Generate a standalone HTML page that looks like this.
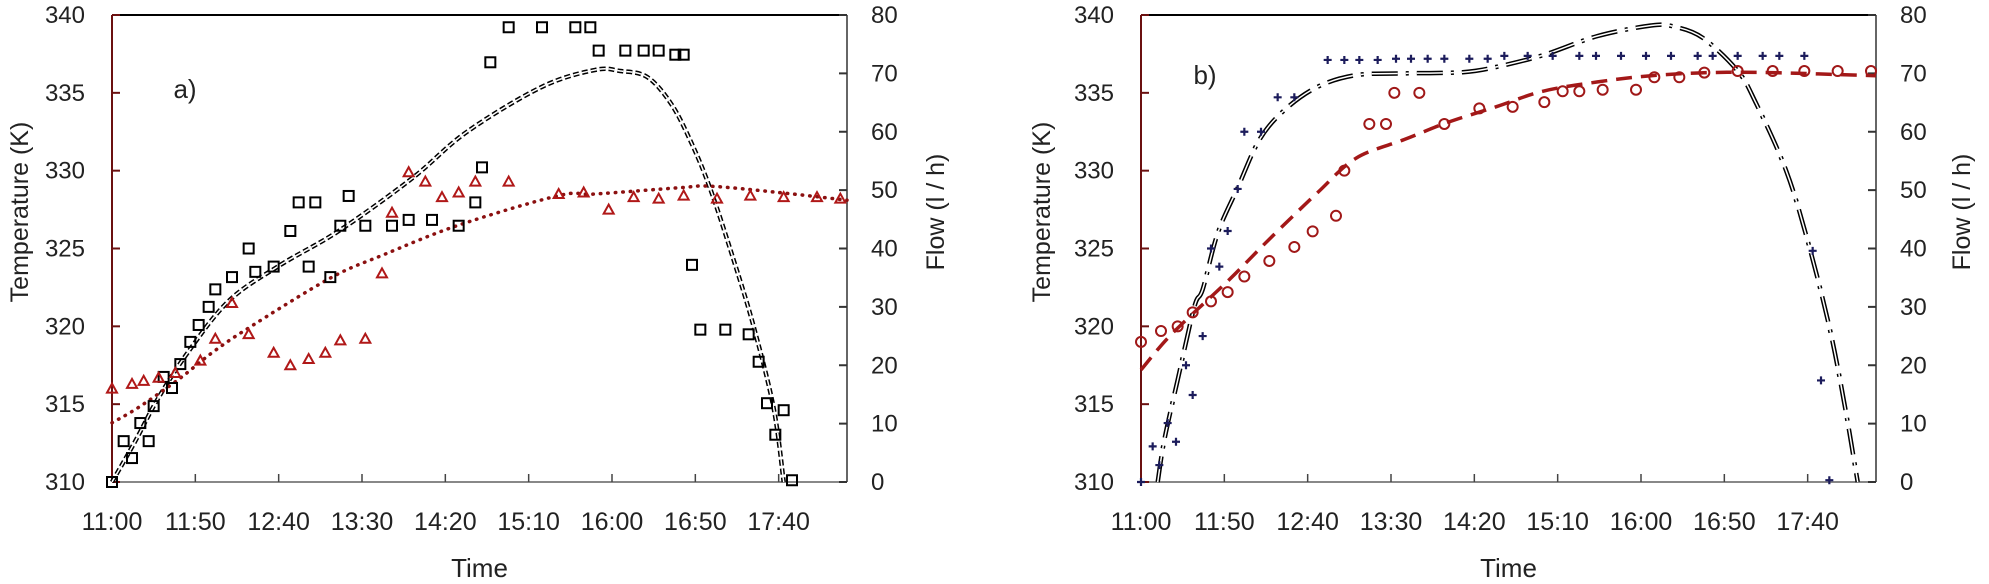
<!DOCTYPE html>
<html><head><meta charset="utf-8"><style>
html,body{margin:0;padding:0;background:#fff}
svg{display:block;font-family:"Liberation Sans",sans-serif}
</style></head><body>
<svg id="chart" width="1989" height="584" viewBox="0 0 1989 584" xmlns="http://www.w3.org/2000/svg"></svg>
<script>
// ---- data (minutes after 11:00) ----
const tickLabels = ["11:00","11:50","12:40","13:30","14:20","15:10","16:00","16:50","17:40"];
const tempTicks = [310,315,320,325,330,335,340];
const flowTicks = [0,10,20,30,40,50,60,70,80];
// panel a: squares = flow
const aSqT = [0,12,7,22,17,25,36,31,41,47,52,58,62,72,82,86,97,107,112,122,118,131,137,142,152,168,178,192,208,218,222,227,238,258,278,287,292,308,319,328,338,343,348,353,368,382,388,393,398,403,408];
const aSqF = [0,4.1,7,7,10.1,13,16.1,18,20.2,24,26.9,30,33,35.1,40,36,36.9,43,47.9,47.9,36.9,35.1,43.9,49,43.9,43.9,44.9,44.9,43.9,47.9,53.9,71.9,77.9,77.9,77.9,77.9,73.9,73.9,73.9,73.9,73.2,73.2,37.2,26.1,26.1,25.3,20.6,13.5,8.1,12.3,0.3];
// panel a: triangles = temperature
const aTrT = [0,12,19,28,38,53,62,72,82,97,107,118,128,137,152,162,168,178,188,198,208,218,238,268,283,298,313,328,343,363,383,403,423,437];
const aTrV = [316.0,316.3,316.5,316.7,317.0,317.8,319.2,321.5,319.5,318.3,317.5,317.9,318.3,319.1,319.2,323.4,327.3,329.9,329.3,328.3,328.6,329.3,329.3,328.5,328.6,327.5,328.3,328.2,328.4,328.2,328.4,328.3,328.3,328.2];
// panel a fits
const aFlowFitT = [0,14,27,45,70,100,136,180,213,258,290,305,321,335,347,359,373,385,397,403];
const aFlowFitV = [0,7,14,22,31,37,43,52,60,67.7,70.6,70.4,69.4,65,58.5,50.2,38,26.6,12.6,0];
const aTempFitT = [0,16,40,60,82,131,163,208,268,290,340,359,400,441];
const aTempFitV = [313.8,314.8,316.6,318.3,319.9,323.1,324.6,326.5,328.4,328.5,328.9,329.0,328.6,328.1];
// panel b: crosses = flow
const bCrT = [0,7,11,16,21,27,31,37,42,47,52,58,62,72,82,92,112,122,131,142,153,162,172,182,197,208,218,232,247,263,273,288,303,318,334,343,358,373,383,398,403,408,413];
const bCrF = [0,6.1,2.9,10.1,6.9,20,14.9,25,40,36.9,43,50.2,60,60,65.9,65.9,72.3,72.3,72.3,72.3,72.5,72.5,72.5,72.5,72.5,72.5,73,73,73,73,73,73,73,73,73,73,73,73,73,73,39.6,17.4,0.3];
// panel b: circles = temperature
const bCiT = [0,12,22,31,42,52,62,77,92,103,117,122,137,147,152,167,182,203,223,242,253,263,277,297,308,323,338,358,379,398,418,438];
const bCiV = [319.0,319.7,320.0,320.9,321.6,322.2,323.2,324.2,325.1,326.1,327.1,330.0,333.0,333.0,335.0,335.0,333.0,334.0,334.1,334.4,335.1,335.1,335.2,335.2,336.0,336.0,336.3,336.4,336.4,336.4,336.4,336.4];
// panel b fits
const bFlowFitT = [10,14,22,32,37,46,58,71,86,106,129,158,193,213,241,274,306,320,337,358,369,387,400,413,422,430];
const bFlowFitV = [0,7.2,17.5,30,33,42.6,50.4,58.6,63.7,67.7,69.7,70,70.2,71.1,73.1,76.4,78.2,78,76.1,70.4,64.9,53.4,41.3,26.6,13.5,0];
const bTempFitT = [0,14,27,53,77,106,129,158,184,213,241,274,306,341,377,441];
const bTempFitV = [317.2,319.0,320.4,323.0,325.6,328.6,330.8,332.0,333.1,334.1,335.1,335.7,336.1,336.3,336.3,336.1];

const NS="http://www.w3.org/2000/svg";
const svg=document.getElementById('chart');
function mk(tag,attrs,parent){const e=document.createElementNS(NS,tag);for(const k in attrs)e.setAttribute(k,attrs[k]);(parent||svg).appendChild(e);return e;}
const TOP=15,BOT=482,TMAX=441;
function smoothPath(pts){
  let d="M"+pts[0][0].toFixed(1)+","+pts[0][1].toFixed(1);
  for(let i=0;i<pts.length-1;i++){
    const p0=pts[Math.max(0,i-1)],p1=pts[i],p2=pts[i+1],p3=pts[Math.min(pts.length-1,i+2)];
    const c1x=p1[0]+(p2[0]-p0[0])/6,c1y=p1[1]+(p2[1]-p0[1])/6;
    const c2x=p2[0]-(p3[0]-p1[0])/6,c2y=p2[1]-(p3[1]-p1[1])/6;
    d+=" C"+c1x.toFixed(1)+","+c1y.toFixed(1)+" "+c2x.toFixed(1)+","+c2y.toFixed(1)+" "+p2[0].toFixed(1)+","+p2[1].toFixed(1);
  }
  return d;
}
function panel(L,R,id){
  const g=mk('g',{});
  
  
  const x=t=>L+(t/TMAX)*(R-L);
  const yT=v=>BOT-(v-310)/30*(BOT-TOP);
  const yF=v=>BOT-v/80*(BOT-TOP);
  const top=mk('line',{x1:L,y1:TOP,x2:R,y2:TOP,stroke:'#000','stroke-width':2},g);
  
  const bot=mk('line',{x1:L,y1:BOT,x2:R,y2:BOT,stroke:'#888','stroke-width':2},g);
  
  const la=mk('line',{x1:L,y1:TOP,x2:L,y2:BOT,stroke:'#6b1010','stroke-width':2},g);
  
  const ra=mk('line',{x1:R,y1:TOP,x2:R,y2:BOT,stroke:'#666','stroke-width':2},g);
  
  tempTicks.forEach(v=>{
    mk('line',{x1:L,y1:yT(v),x2:L+8,y2:yT(v),stroke:'#6b1010','stroke-width':2},g);
    const t=mk('text',{x:L-27,y:yT(v)+8,'text-anchor':'end','font-size':24,fill:'#222'},g);
    t.textContent=v;
  });
  flowTicks.forEach(v=>{
    mk('line',{x1:R-8,y1:yF(v),x2:R,y2:yF(v),stroke:'#333','stroke-width':2},g);
    const t=mk('text',{x:R+24,y:yF(v)+8,'text-anchor':'start','font-size':24,fill:'#222'},g);
    t.textContent=v;
  });
  tickLabels.forEach((s,i)=>{
    const xx=x(i*50);
    if(i>0) mk('line',{x1:xx,y1:BOT-8,x2:xx,y2:BOT,stroke:'#444','stroke-width':1.5},g);
    const t=mk('text',{x:xx,y:530,'text-anchor':'middle','font-size':25,fill:'#222'},g);
    t.textContent=s;
  });
  const xt=mk('text',{x:(L+R)/2,y:577,'text-anchor':'middle','font-size':26,fill:'#222'},g);
  xt.textContent='Time';
  return {g,x,yT,yF};
}
function titles(xl,xr,lab,lx,ly){
  const t1=mk('text',{x:0,y:0,'text-anchor':'middle','font-size':25,fill:'#222',transform:`translate(${xl},212) rotate(-90)`,'xml:space':'preserve'});
  t1.textContent='Temperature  (K)';
  const t2=mk('text',{x:0,y:0,'text-anchor':'middle','font-size':25,fill:'#222',transform:`translate(${xr},212) rotate(-90)`,'xml:space':'preserve'});
  t2.textContent='Flow   (l / h)';
  const t3=mk('text',{x:lx,y:ly,'text-anchor':'middle','font-size':26,fill:'#222'});
  t3.textContent=lab;
}
function doubleLine(g,d,dash,name){
  const a=mk('path',{d,fill:'none',stroke:'#000','stroke-width':4.5,'stroke-dasharray':dash},g);
  
  mk('path',{d,fill:'none',stroke:'#fff','stroke-width':1.5,'stroke-dasharray':dash},g);
}
// ---- Panel A ----
const A=panel(112,847,'a');
titles(28,944,'a)',185,98);
doubleLine(A.g,smoothPath(aFlowFitT.map((t,i)=>[A.x(t),A.yF(aFlowFitV[i])])),'6 3','flow-fit-line-a');
const ta=mk('path',{d:smoothPath(aTempFitT.map((t,i)=>[A.x(t),A.yT(aTempFitV[i])])),fill:'none',stroke:'#8b1010','stroke-width':3.5,'stroke-dasharray':'0.5 7','stroke-linecap':'round'},A.g);

aSqT.forEach((t,i)=>{
  const cx=A.x(t),cy=A.yF(aSqF[i]);
  const r=mk('rect',{x:cx-5,y:cy-5,width:10,height:10,fill:'none',stroke:'#000','stroke-width':2},A.g);
  
  
});
aTrT.forEach((t,i)=>{
  const cx=A.x(t),cy=A.yT(aTrV[i]);
  const p=mk('polygon',{points:`${cx},${cy-5} ${cx-5},${cy+4} ${cx+5},${cy+4}`,fill:'none',stroke:'#b01818','stroke-width':2},A.g);
  
  
});
// ---- Panel B ----
const B=panel(1141,1876,'b');
titles(1050,1970,'b)',1205,84);
const tb=mk('path',{d:smoothPath(bTempFitT.map((t,i)=>[B.x(t),B.yT(bTempFitV[i])])),fill:'none',stroke:'#a31818','stroke-width':3.5,'stroke-dasharray':'16 9'},B.g);

doubleLine(B.g,smoothPath(bFlowFitT.map((t,i)=>[B.x(t),B.yF(bFlowFitV[i])])),'26 8 3 8','flow-fit-line-b');
bCiT.forEach((t,i)=>{
  const c=mk('circle',{cx:B.x(t),cy:B.yT(bCiV[i]),r:5,fill:'none',stroke:'#a01818','stroke-width':2},B.g);
  
  
});
bCrT.forEach((t,i)=>{
  const cx=B.x(t),cy=B.yF(bCrF[i]);
  const p=mk('path',{d:`M${cx-4},${cy}H${cx+4}M${cx},${cy-4}V${cy+4}`,stroke:'#1c1c5c','stroke-width':2.2},B.g);
  
  
});
</script>
</body></html>
